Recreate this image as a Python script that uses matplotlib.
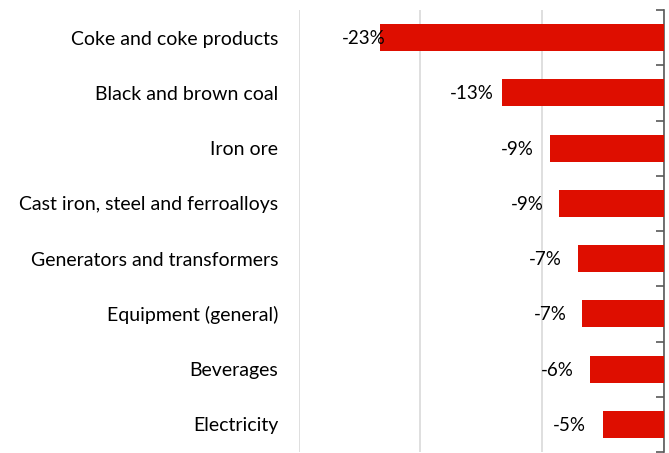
import matplotlib.pyplot as plt
import numpy as np

# price change by product group, percent
products = ["Coke and coke products", "Black and brown coal", "Iron ore",
            "Cast iron, steel and ferroalloys", "Generators and transformers",
            "Equipment (general)", "Beverages", "Electricity"]
change = [-23.3, -13.3, -9.4, -8.6, -7.1, -6.7, -6.1, -5.0]
value_labels = ["-23%", "-13%", "-9%", "-9%", "-7%", "-7%", "-6%", "-5%"]

# gap between bar end and its label, in pixels
label_gap = [-5, 8, 16, 16, 16, 16, 16, 17]

plt.rcParams["font.family"] = ["Lato", "DejaVu Sans"]

fig = plt.figure(figsize=(6.69, 4.53), dpi=100)
ax = fig.add_axes([298.7 / 669, 1 / 453, (664 - 298.7) / 669, 442 / 453])

y = np.arange(len(products))
ax.barh(y, change, height=0.49, color="#DE0E00", zorder=3)

ax.set_xlim(-30, 0)
ax.set_ylim(len(products) - 0.5, -0.5)

ax.set_xticks([-30, -20, -10, 0])
ax.xaxis.grid(True, color="#D9D9D9", linewidth=1.2, zorder=0)
ax.tick_params(axis="x", bottom=False, labelbottom=False)

ax.set_yticks(y)
ax.set_yticklabels(products, fontsize=14, color="black")
ax.set_yticks(np.arange(len(products) + 1) - 0.5, minor=True)
ax.tick_params(axis="y", which="major", left=False, right=False,
               length=0, pad=14.9)
ax.tick_params(axis="y", which="minor", left=False, right=True,
               direction="in", length=6, width=1.2, color="#595959")

for s in ["top", "bottom", "left"]:
    ax.spines[s].set_visible(False)
ax.spines["right"].set_color("#595959")
ax.spines["right"].set_linewidth(1.2)

for i, (v, txt) in enumerate(zip(change, value_labels)):
    ax.annotate(txt, (v, i), xytext=(-label_gap[i] * 0.72, -0.7),
                textcoords="offset points", ha="right", va="center",
                fontsize=13.5, color="black", zorder=4)

fig.savefig("out.png", dpi=100)
